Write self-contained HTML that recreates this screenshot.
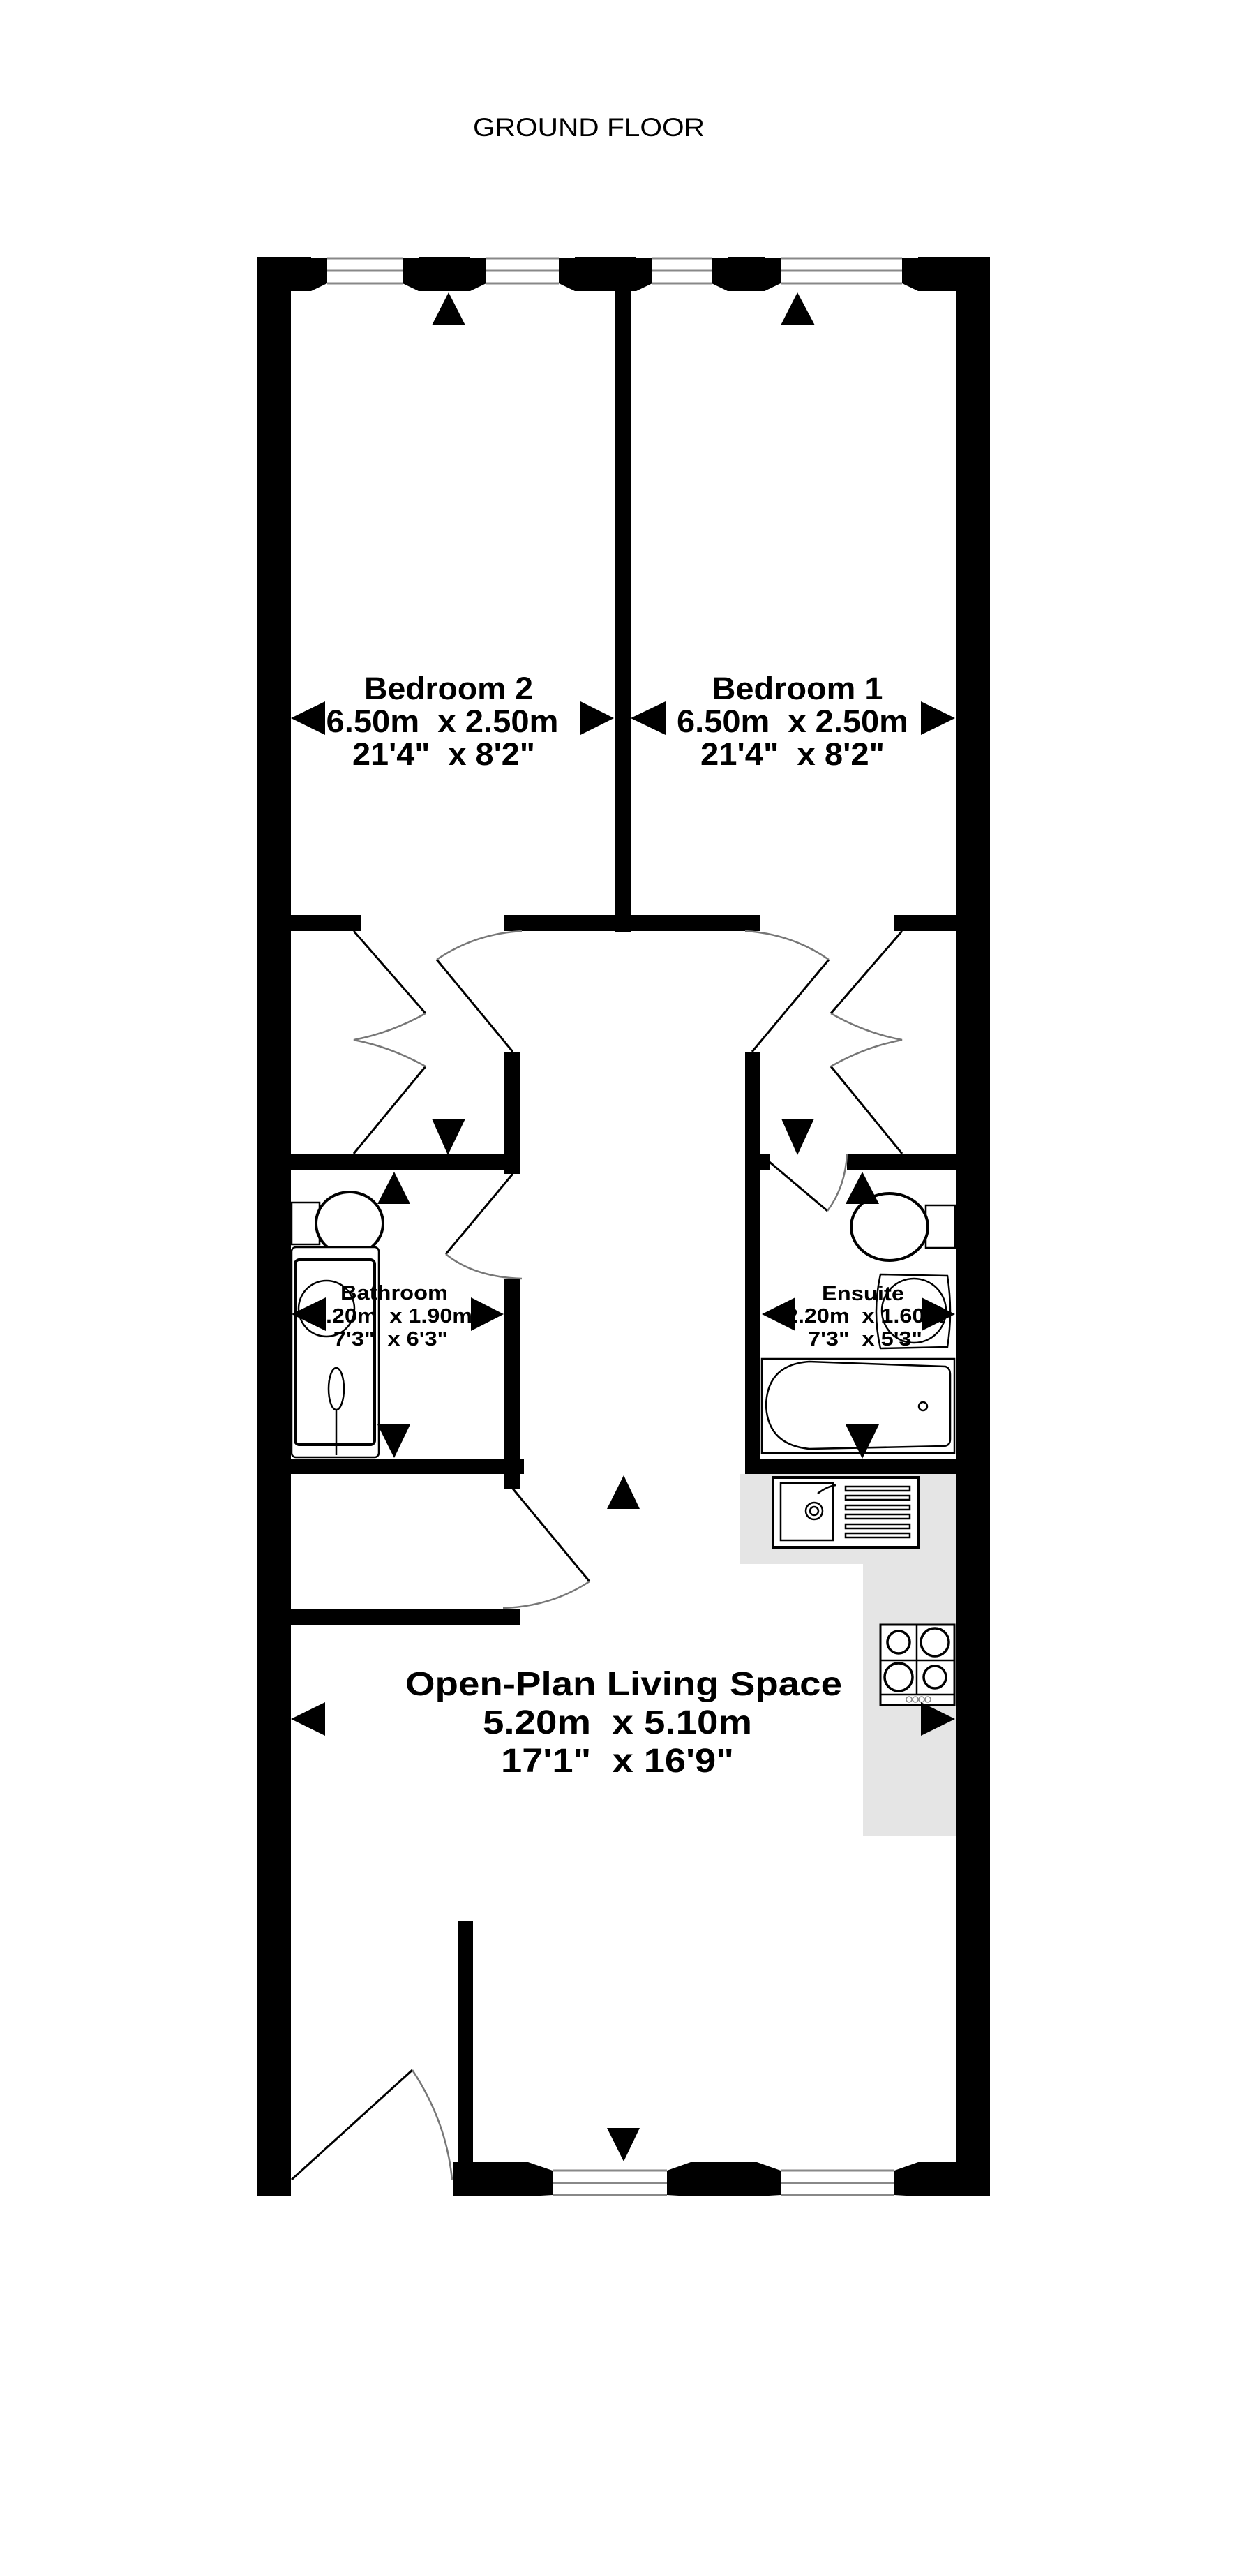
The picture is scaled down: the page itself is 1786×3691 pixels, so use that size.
<!DOCTYPE html>
<html><head><meta charset="utf-8"><style>
html,body{margin:0;padding:0;background:#fff;}
svg{display:block;}
text{font-family:"Liberation Sans",sans-serif;white-space:pre;}
</style></head><body>
<svg width="1786" height="3691" viewBox="0 0 1786 3691" xmlns="http://www.w3.org/2000/svg" xml:space="preserve">
<rect width="1786" height="3691" fill="#fff"/>
<text x="844" y="195" font-size="37" text-anchor="middle" textLength="332" lengthAdjust="spacingAndGlyphs">GROUND FLOOR</text>

<polygon points="1060,2112 1370,2112 1370,2630 1237,2630 1237,2241 1060,2241" fill="#e5e5e5"/>

<g fill="#000">
<rect x="368" y="368" width="49" height="2779"/>
<rect x="1370" y="368" width="49" height="2779"/>
<rect x="368" y="368" width="78" height="49"/>
<rect x="600" y="368" width="74" height="49"/>
<rect x="824" y="368" width="88" height="49"/>
<rect x="1043" y="368" width="53" height="49"/>
<rect x="1316" y="368" width="103" height="49"/>
<polygon points="446,370 469,370 469,406 446,417"/>
<polygon points="577,370 600,370 600,417 577,406"/>
<polygon points="674,370 697,370 697,406 674,417"/>
<polygon points="801,370 824,370 824,417 801,406"/>
<polygon points="912,370 935,370 935,406 912,417"/>
<polygon points="1020,370 1043,370 1043,417 1020,406"/>
<polygon points="1096,370 1119,370 1119,406 1096,417"/>
<polygon points="1293,370 1316,370 1316,417 1293,406"/>
<rect x="650" y="3098" width="107" height="49"/>
<rect x="990" y="3098" width="95" height="49"/>
<rect x="1316" y="3098" width="103" height="49"/>
<polygon points="757,3098 792,3110 792,3145 757,3147"/>
<polygon points="956,3110 990,3098 990,3147 956,3145"/>
<polygon points="1085,3098 1119,3110 1119,3145 1085,3147"/>
<polygon points="1282,3110 1316,3098 1316,3147 1282,3145"/>
<rect x="882" y="417" width="23" height="918"/>
<rect x="417" y="1311" width="101" height="23"/>
<rect x="723" y="1311" width="367" height="23"/>
<rect x="1282" y="1311" width="88" height="23"/>
<rect x="723" y="1507" width="23" height="175"/>
<rect x="723" y="1832" width="23" height="301"/>
<rect x="417" y="1653" width="329" height="23"/>
<rect x="417" y="2090" width="334" height="22"/>
<rect x="1068" y="1507" width="22" height="605"/>
<rect x="1068" y="1653" width="35" height="23"/>
<rect x="1214" y="1653" width="156" height="23"/>
<rect x="1068" y="2090" width="302" height="22"/>
<rect x="417" y="2306" width="329" height="23"/>
<rect x="656" y="2753" width="22" height="345"/>
</g>

<g fill="#fff" stroke="#888" stroke-width="3">
<line x1="469" y1="370" x2="577" y2="370"/><line x1="469" y1="388" x2="577" y2="388"/><line x1="469" y1="406" x2="577" y2="406"/>
<line x1="697" y1="370" x2="801" y2="370"/><line x1="697" y1="388" x2="801" y2="388"/><line x1="697" y1="406" x2="801" y2="406"/>
<line x1="935" y1="370" x2="1020" y2="370"/><line x1="935" y1="388" x2="1020" y2="388"/><line x1="935" y1="406" x2="1020" y2="406"/>
<line x1="1119" y1="370" x2="1293" y2="370"/><line x1="1119" y1="388" x2="1293" y2="388"/><line x1="1119" y1="406" x2="1293" y2="406"/>
<line x1="792" y1="3110" x2="956" y2="3110"/><line x1="792" y1="3128" x2="956" y2="3128"/><line x1="792" y1="3145" x2="956" y2="3145"/>
<line x1="1119" y1="3110" x2="1282" y2="3110"/><line x1="1119" y1="3128" x2="1282" y2="3128"/><line x1="1119" y1="3145" x2="1282" y2="3145"/>
</g>

<g fill="none" stroke="#000" stroke-width="3">
<line x1="507" y1="1334" x2="610" y2="1452"/>
<line x1="610" y1="1528" x2="507" y2="1653"/>
<line x1="1293" y1="1334" x2="1191" y2="1452"/>
<line x1="1191" y1="1528" x2="1293" y2="1653"/>
<line x1="735" y1="1507" x2="626" y2="1375"/>
<line x1="1078" y1="1507" x2="1188" y2="1375"/>
<line x1="735" y1="1682" x2="639" y2="1797"/>
<line x1="1103" y1="1665" x2="1186" y2="1735"/>
<line x1="735" y1="2133" x2="845" y2="2266"/>
<line x1="418" y1="3123" x2="591" y2="2966"/>
</g>
<g fill="none" stroke="#777" stroke-width="2.5">
<path d="M610,1452 Q560,1480 507,1490 Q560,1500 610,1528"/>
<path d="M1191,1452 Q1240,1480 1293,1490 Q1240,1500 1191,1528"/>
<path d="M626,1375 Q680,1338 748,1334"/>
<path d="M1188,1375 Q1135,1338 1068,1334"/>
<path d="M639,1797 Q680,1830 748,1832"/>
<path d="M1186,1735 Q1212,1700 1214,1653"/>
<path d="M845,2266 Q790,2302 721,2304"/>
<path d="M591,2966 Q640,3040 648,3123"/>
</g>

<g fill="#fff" stroke="#000" stroke-width="2.5">
<rect x="418" y="1723" width="40" height="60"/>
<ellipse cx="501" cy="1753" rx="48" ry="45" stroke-width="4"/>
<rect x="418" y="1787" width="125" height="301" rx="6"/>
<rect x="423" y="1805" width="114" height="265" rx="6" stroke-width="4"/>
<circle cx="468" cy="1875" r="40"/>
<ellipse cx="482" cy="1990" rx="11" ry="30"/>
<line x1="482" y1="2020" x2="482" y2="2085"/>
<rect x="1327" y="1727" width="42" height="61"/>
<ellipse cx="1275" cy="1758" rx="55" ry="48" stroke-width="4"/>
<path d="M1262,1826 L1358,1828 Q1366,1880 1358,1930 L1262,1932 Q1250,1880 1262,1826Z"/>
<circle cx="1310" cy="1878" r="46"/>
<rect x="1092" y="1947" width="276" height="135"/>
<path d="M1160,1951 L1355,1958 Q1362,1960 1362,1970 L1362,2062 Q1362,2072 1352,2072 L1160,2076 Q1100,2070 1098,2013 Q1100,1955 1160,1951Z"/>
<circle cx="1323" cy="2015" r="6"/>
<rect x="1108" y="2117" width="208" height="100" stroke-width="4"/>
<rect x="1119" y="2125" width="75" height="82"/>
<circle cx="1167" cy="2165" r="12"/><circle cx="1167" cy="2165" r="6"/>
<path d="M1172,2140 Q1185,2130 1198,2128"/>
<rect x="1212" y="2130" width="92" height="6"/><rect x="1212" y="2143" width="92" height="6"/>
<rect x="1212" y="2157" width="92" height="6"/><rect x="1212" y="2170" width="92" height="6"/>
<rect x="1212" y="2184" width="92" height="6"/><rect x="1212" y="2197" width="92" height="6"/>
<rect x="1262" y="2328" width="106" height="115" stroke-width="3"/>
<line x1="1314" y1="2328" x2="1314" y2="2428"/><line x1="1262" y1="2379" x2="1368" y2="2379"/>
<line x1="1262" y1="2428" x2="1368" y2="2428"/>
<circle cx="1288" cy="2353" r="16" stroke-width="3.5"/><circle cx="1340" cy="2353" r="20" stroke-width="3.5"/>
<circle cx="1288" cy="2403" r="20" stroke-width="3.5"/><circle cx="1340" cy="2403" r="16" stroke-width="3.5"/>
</g>
<g fill="none" stroke="#888" stroke-width="1.5">
<circle cx="1303" cy="2435" r="4"/><circle cx="1312" cy="2435" r="4"/><circle cx="1321" cy="2435" r="4"/><circle cx="1330" cy="2435" r="4"/>
</g>

<g font-weight="bold" text-anchor="middle" fill="#000">
<text x="643" y="1002" font-size="45" textLength="242" lengthAdjust="spacingAndGlyphs">Bedroom 2</text>
<text x="634" y="1049" font-size="45" textLength="333" lengthAdjust="spacingAndGlyphs">6.50m  x 2.50m</text>
<text x="636" y="1096" font-size="45" textLength="262" lengthAdjust="spacingAndGlyphs">21'4"  x 8'2"</text>
<text x="1143" y="1002" font-size="45" textLength="245" lengthAdjust="spacingAndGlyphs">Bedroom 1</text>
<text x="1136" y="1049" font-size="45" textLength="332" lengthAdjust="spacingAndGlyphs">6.50m  x 2.50m</text>
<text x="1136" y="1096" font-size="45" textLength="264" lengthAdjust="spacingAndGlyphs">21'4"  x 8'2"</text>
<text x="565" y="1862" font-size="29" textLength="154" lengthAdjust="spacingAndGlyphs">Bathroom</text>
<text x="563" y="1895" font-size="29" textLength="228" lengthAdjust="spacingAndGlyphs">2.20m  x 1.90m</text>
<text x="560" y="1928" font-size="29" textLength="164" lengthAdjust="spacingAndGlyphs">7'3"  x 6'3"</text>
<text x="1237" y="1863" font-size="29" textLength="118" lengthAdjust="spacingAndGlyphs">Ensuite</text>
<text x="1240" y="1895" font-size="29" textLength="228" lengthAdjust="spacingAndGlyphs">2.20m  x 1.60m</text>
<text x="1240" y="1928" font-size="29" textLength="164" lengthAdjust="spacingAndGlyphs">7'3"  x 5'3"</text>
<text x="894" y="2429" font-size="48" textLength="626" lengthAdjust="spacingAndGlyphs">Open-Plan Living Space</text>
<text x="885" y="2484" font-size="48" textLength="386" lengthAdjust="spacingAndGlyphs">5.20m  x 5.10m</text>
<text x="885" y="2539" font-size="48" textLength="334" lengthAdjust="spacingAndGlyphs">17'1"  x 16'9"</text>
</g>

<g fill="#000">
<polygon points="643,419 619,466 667,466"/>
<polygon points="1143,419 1119,466 1168,466"/>
<polygon points="417,1029 466,1005 466,1053"/>
<polygon points="880,1029 832,1005 832,1053"/>
<polygon points="904,1029 954,1005 954,1053"/>
<polygon points="1369,1029 1320,1005 1320,1053"/>
<polygon points="642,1655 619,1603 667,1603"/>
<polygon points="1143,1655 1120,1603 1167,1603"/>
<polygon points="565,1679 541,1725 588,1725"/>
<polygon points="565,2089 541,2041 588,2041"/>
<polygon points="418,1883 467,1859 467,1907"/>
<polygon points="722,1883 675,1859 675,1907"/>
<polygon points="1236,1679 1212,1725 1260,1725"/>
<polygon points="1236,2090 1212,2041 1260,2041"/>
<polygon points="1092,1883 1140,1859 1140,1907"/>
<polygon points="1369,1883 1321,1859 1321,1907"/>
<polygon points="894,2114 870,2162 917,2162"/>
<polygon points="417,2463 466,2439 466,2487"/>
<polygon points="1369,2463 1320,2439 1320,2487"/>
<polygon points="894,3097 870,3049 917,3049"/>
</g>
</svg>
</body></html>
